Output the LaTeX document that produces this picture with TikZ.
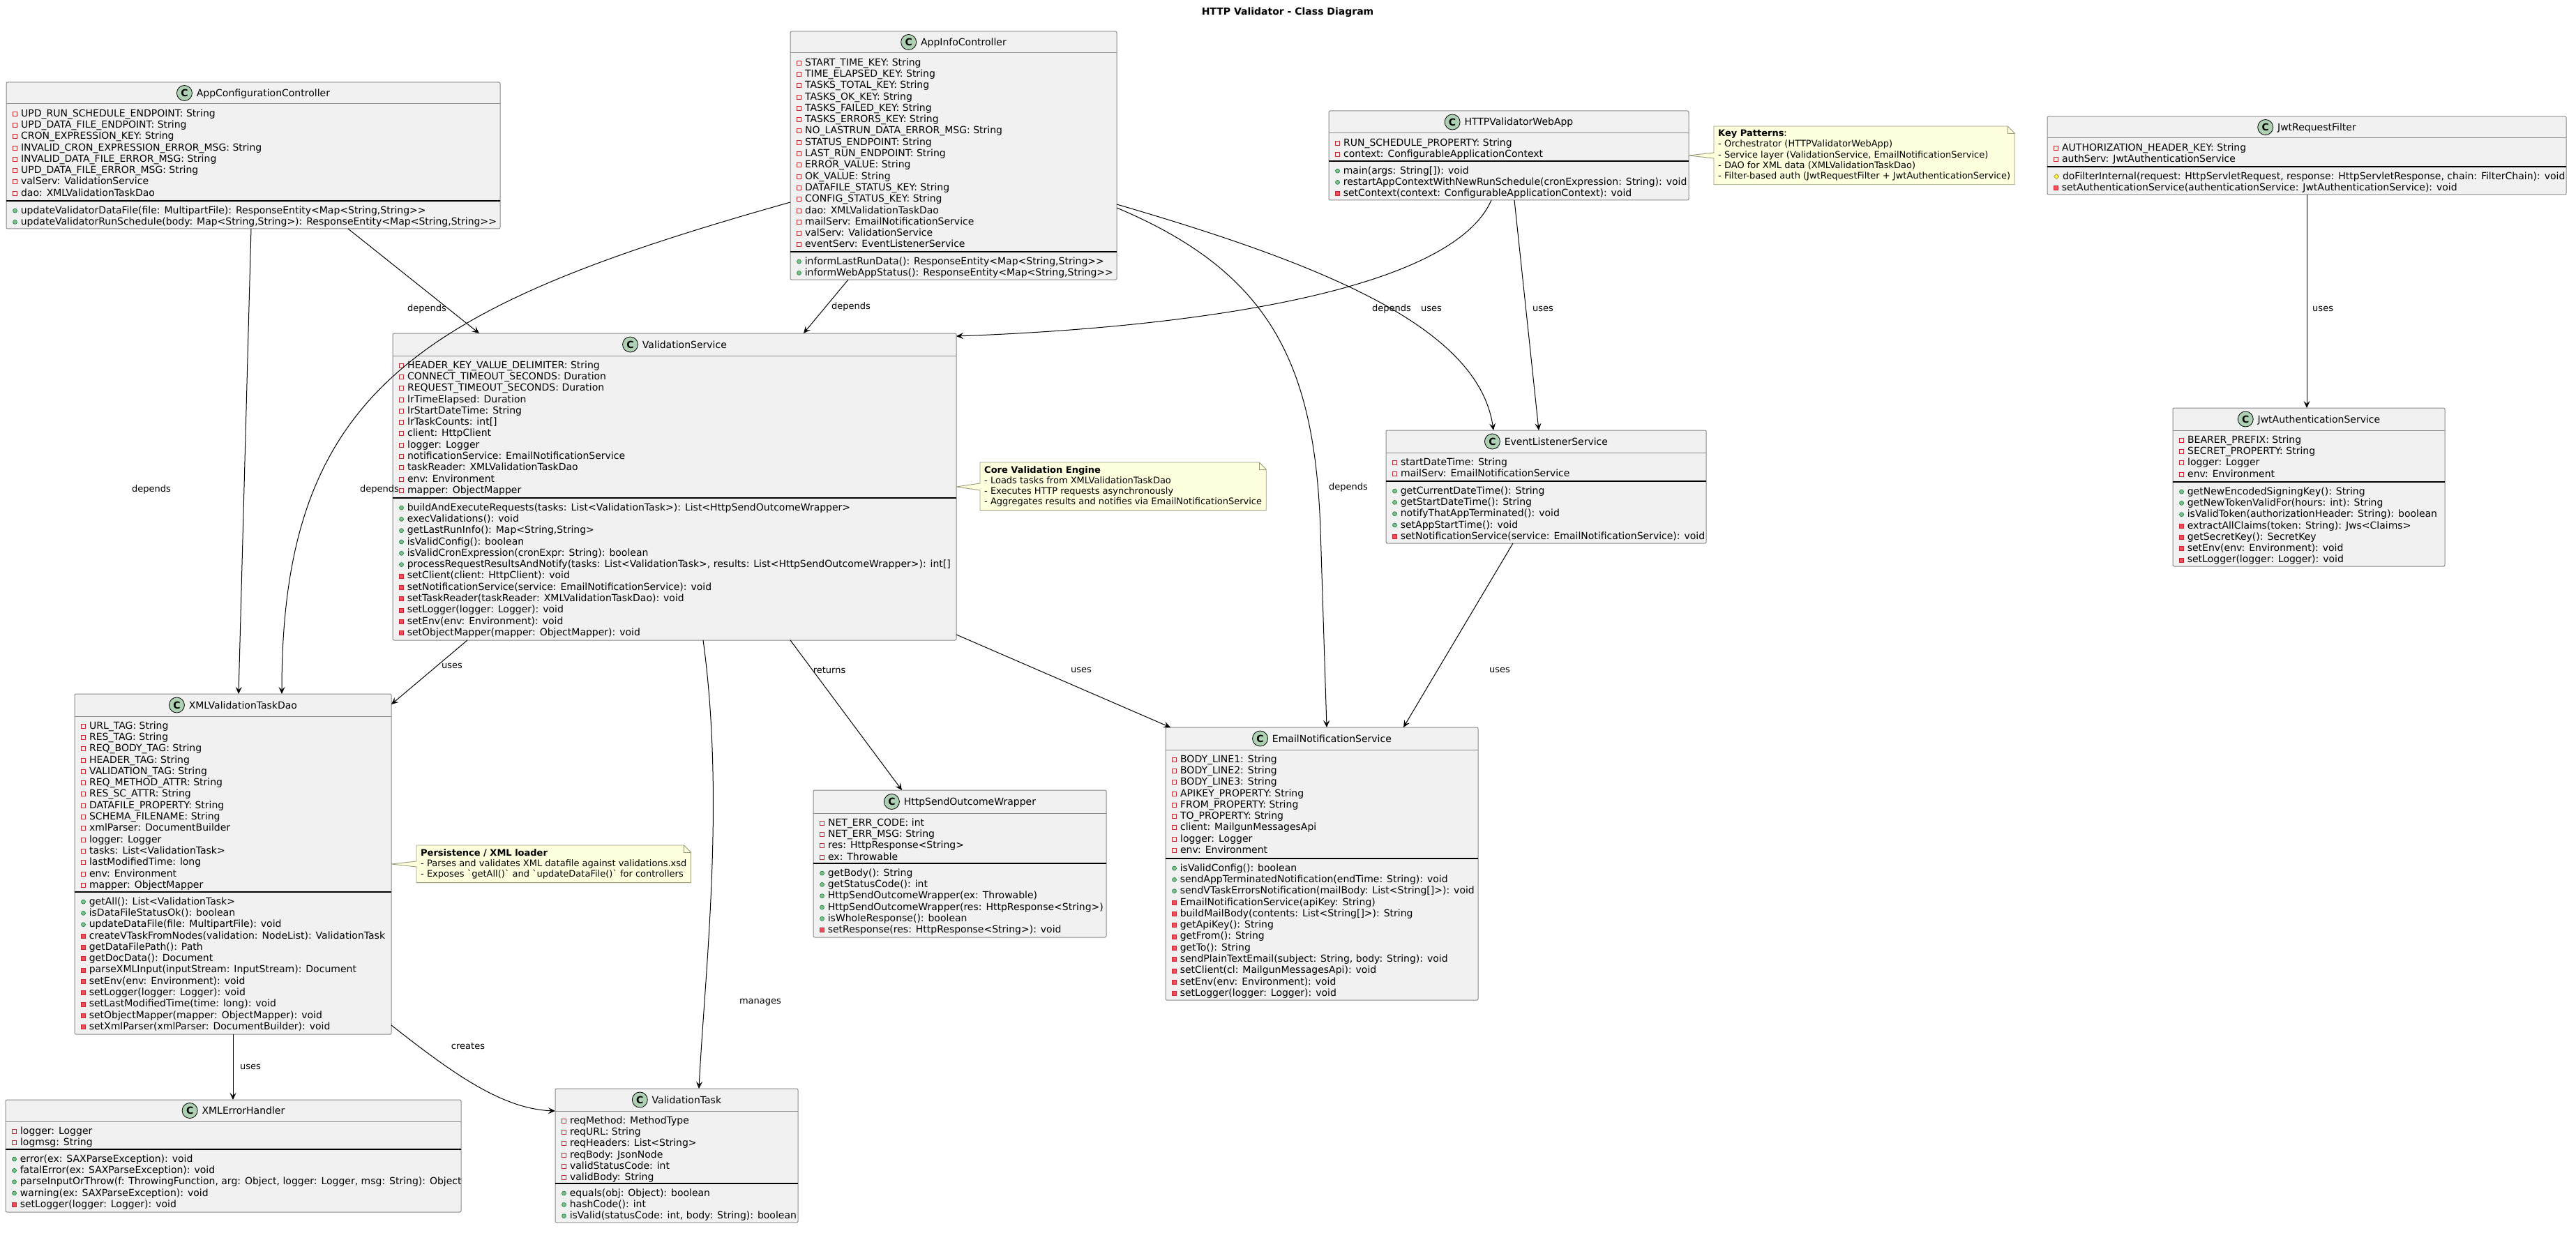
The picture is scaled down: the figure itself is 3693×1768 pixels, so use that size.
\documentclass[tikz,border=0pt]{standalone}
\usepackage{fontspec}
\setmainfont{DejaVu Sans}
\usetikzlibrary{arrows.meta,fit,backgrounds}
\definecolor{boxfill}{HTML}{F1F1F1}
\definecolor{boxline}{HTML}{8A8A8A}
\definecolor{privred}{HTML}{C82930}
\definecolor{privfill}{HTML}{F24D5C}
\definecolor{pubgreen}{HTML}{038048}
\definecolor{pubfill}{HTML}{84BE84}
\definecolor{protline}{HTML}{B38D22}
\definecolor{protfill}{HTML}{FFFF44}
\definecolor{iconfill}{HTML}{ADD1B2}
\definecolor{notefill}{HTML}{FEFFDD}
\definecolor{noteline}{HTML}{9A9A7A}
\newcommand\icFP{\tikz[baseline=-1pt]\draw[privred,line width=0.9pt] (0pt,0pt) rectangle (6pt,6pt);\hspace{5pt}}
\newcommand\icMP{\tikz[baseline=-1pt]\draw[pubgreen,fill=pubfill,line width=0.6pt] (3pt,3pt) circle (3pt);\hspace{5pt}}
\newcommand\icMR{\tikz[baseline=-1pt]\draw[privred,fill=privfill,line width=0.6pt] (0pt,0pt) rectangle (6pt,6pt);\hspace{5pt}}
\newcommand\icMD{\tikz[baseline=-1pt]\draw[protline,fill=protfill,line width=0.6pt] (3pt,-0.6pt) -- (6.6pt,3pt) -- (3pt,6.6pt) -- (-0.6pt,3pt) -- cycle;\hspace{5pt}}
\newcommand\icC{\tikz[baseline=6pt]{\draw[line width=0.8pt,fill=iconfill] (11pt,11pt) circle (11pt);\node[inner sep=0pt] at (11pt,11pt) {\fontsize{14}{14}\selectfont\bfseries C};}}
\tikzset{
  classbox/.style={draw=boxline, fill=boxfill, line width=1pt, rounded corners=2pt, inner sep=0pt, outer sep=0pt},
  hdrline/.style={draw=boxline, line width=1pt},
  sepline/.style={draw=black, line width=1.2pt},
  ctitle/.style={inner sep=0pt, font=\fontsize{14}{16.3}\selectfont},
  memb/.style={inner sep=0pt, font=\fontsize{14}{16.3}\selectfont},
  conn/.style={draw=black, line width=1pt, -{Stealth[length=10pt,width=9pt,inset=4pt]}},
  lbl/.style={inner sep=0pt, font=\fontsize{13}{15}\selectfont},
  notetext/.style={inner xsep=6pt, inner ysep=5pt, align=left, font=\fontsize{13}{15.3}\selectfont},
  notebox/.style={draw=noteline, fill=notefill, line width=0.9pt},
}
\newcommand\umlclass[8]{%
  \node[classbox, fit={(#2,#3) (#4,#5)}] (#1) {};
  \draw[hdrline] (#2,#6) -- (#4,#6);
  \draw[sepline] (#2,#7) -- (#4,#7);
  \node[ctitle] (#1-t) at ({(#2+#4)/2},{(#3+#6)/2}) {\icC\hspace{6pt}#8};
}
\newcommand\umlmem[4]{\node[memb, anchor=north west] (#1) at (#2+9,#3+6.5) {\begin{tabular}{@{}l@{}}#4\end{tabular}};}
% note outline: #1 node name, #2 tail top offset, #3 tail bottom offset, #4 tail tip x-offset, #5 tip y offset
\newcommand\noteshape[5]{%
  \begin{scope}[on background layer]
  \fill[notebox] (#1.north west) -- ([xshift=-10pt]#1.north east) -- ([yshift=-10pt]#1.north east) -- (#1.south east) -- (#1.south west) -- ([yshift=-#3pt]#1.north west) -- ([xshift=-#4pt,yshift=-#5pt]#1.north west) -- ([yshift=-#2pt]#1.north west) -- cycle;
  \draw[noteline, line width=0.9pt] ([xshift=-10pt]#1.north east) |- ([yshift=-10pt]#1.north east);
  \end{scope}}
\begin{document}
\begin{tikzpicture}[x=1pt,y=-1pt]
\useasboundingbox (0,0) rectangle (3693,1768);
\begin{scope}[on background layer]
\fill[white] (0,0) rectangle (3693,1768);
\end{scope}
\node[font=\fontsize{14}{16}\selectfont\bfseries, inner sep=0pt] (title) at (1846,18) {HTTP Validator - Class Diagram};

% AppConfigurationController
\umlclass{appcfg}{9}{118}{717}{328}{149}{288}{AppConfigurationController}
\umlmem{appcfg-f}{9}{149}{\icFP UPD\_RUN\_SCHEDULE\_ENDPOINT: String\\
\icFP UPD\_DATA\_FILE\_ENDPOINT: String\\
\icFP CRON\_EXPRESSION\_KEY: String\\
\icFP INVALID\_CRON\_EXPRESSION\_ERROR\_MSG: String\\
\icFP INVALID\_DATA\_FILE\_ERROR\_MSG: String\\
\icFP UPD\_DATA\_FILE\_ERROR\_MSG: String\\
\icFP valServ: ValidationService\\
\icFP dao: XMLValidationTaskDao}
\umlmem{appcfg-m}{9}{288}{\icMP updateValidatorDataFile(file: MultipartFile): ResponseEntity<Map<String,String>{}>\\
\icMP updateValidatorRunSchedule(body: Map<String,String>): ResponseEntity<Map<String,String>{}>}

% AppInfoController
\umlclass{appinfo}{1133}{45}{1601}{401}{76}{361}{AppInfoController}
\umlmem{appinfo-f}{1133}{76}{\icFP START\_TIME\_KEY: String\\
\icFP TIME\_ELAPSED\_KEY: String\\
\icFP TASKS\_TOTAL\_KEY: String\\
\icFP TASKS\_OK\_KEY: String\\
\icFP TASKS\_FAILED\_KEY: String\\
\icFP TASKS\_ERRORS\_KEY: String\\
\icFP NO\_LASTRUN\_DATA\_ERROR\_MSG: String\\
\icFP STATUS\_ENDPOINT: String\\
\icFP LAST\_RUN\_ENDPOINT: String\\
\icFP ERROR\_VALUE: String\\
\icFP OK\_VALUE: String\\
\icFP DATAFILE\_STATUS\_KEY: String\\
\icFP CONFIG\_STATUS\_KEY: String\\
\icFP dao: XMLValidationTaskDao\\
\icFP mailServ: EmailNotificationService\\
\icFP valServ: ValidationService\\
\icFP eventServ: EventListenerService}
\umlmem{appinfo-m}{1133}{361}{\icMP informLastRunData(): ResponseEntity<Map<String,String>{}>\\
\icMP informWebAppStatus(): ResponseEntity<Map<String,String>{}>}

% HTTPValidatorWebApp
\umlclass{webapp}{1905}{159}{2421}{287}{191}{231}{HTTPValidatorWebApp}
\umlmem{webapp-f}{1905}{191}{\icFP RUN\_SCHEDULE\_PROPERTY: String\\
\icFP context: ConfigurableApplicationContext}
\umlmem{webapp-m}{1905}{231}{\icMP main(args: String[]): void\\
\icMP restartAppContextWithNewRunSchedule(cronExpression: String): void\\
\icMR setContext(context: ConfigurableApplicationContext): void}

% JwtRequestFilter
\umlclass{jwtrf}{2935}{167}{3679}{279}{198}{239}{JwtRequestFilter}
\umlmem{jwtrf-f}{2935}{198}{\icFP AUTHORIZATION\_HEADER\_KEY: String\\
\icFP authServ: JwtAuthenticationService}
\umlmem{jwtrf-m}{2935}{239}{\icMD doFilterInternal(request: HttpServletRequest, response: HttpServletResponse, chain: FilterChain): void\\
\icMR setAuthenticationService(authenticationService: JwtAuthenticationService): void}

% ValidationService
\umlclass{valsrv}{563}{478}{1371}{918}{510}{714}{ValidationService}
\umlmem{valsrv-f}{563}{510}{\icFP HEADER\_KEY\_VALUE\_DELIMITER: String\\
\icFP CONNECT\_TIMEOUT\_SECONDS: Duration\\
\icFP REQUEST\_TIMEOUT\_SECONDS: Duration\\
\icFP lrTimeElapsed: Duration\\
\icFP lrStartDateTime: String\\
\icFP lrTaskCounts: int[]\\
\icFP client: HttpClient\\
\icFP logger: Logger\\
\icFP notificationService: EmailNotificationService\\
\icFP taskReader: XMLValidationTaskDao\\
\icFP env: Environment\\
\icFP mapper: ObjectMapper}
\umlmem{valsrv-m}{563}{714}{\icMP buildAndExecuteRequests(tasks: List<ValidationTask>): List<HttpSendOutcomeWrapper>\\
\icMP execValidations(): void\\
\icMP getLastRunInfo(): Map<String,String>\\
\icMP isValidConfig(): boolean\\
\icMP isValidCronExpression(cronExpr: String): boolean\\
\icMP processRequestResultsAndNotify(tasks: List<ValidationTask>, results: List<HttpSendOutcomeWrapper>): int[]\\
\icMR setClient(client: HttpClient): void\\
\icMR setNotificationService(service: EmailNotificationService): void\\
\icMR setTaskReader(taskReader: XMLValidationTaskDao): void\\
\icMR setLogger(logger: Logger): void\\
\icMR setEnv(env: Environment): void\\
\icMR setObjectMapper(mapper: ObjectMapper): void}

% EventListenerService
\umlclass{evl}{1987}{617}{2446}{779}{649}{690}{EventListenerService}
\umlmem{evl-f}{1987}{649}{\icFP startDateTime: String\\
\icFP mailServ: EmailNotificationService}
\umlmem{evl-m}{1987}{690}{\icMP getCurrentDateTime(): String\\
\icMP getStartDateTime(): String\\
\icMP notifyThatAppTerminated(): void\\
\icMP setAppStartTime(): void\\
\icMR setNotificationService(service: EmailNotificationService): void}

% JwtAuthenticationService
\umlclass{jwtauth}{3115}{585}{3505}{812}{617}{691}{JwtAuthenticationService}
\umlmem{jwtauth-f}{3115}{617}{\icFP BEARER\_PREFIX: String\\
\icFP SECRET\_PROPERTY: String\\
\icFP logger: Logger\\
\icFP env: Environment}
\umlmem{jwtauth-m}{3115}{691}{\icMP getNewEncodedSigningKey(): String\\
\icMP getNewTokenValidFor(hours: int): String\\
\icMP isValidToken(authorizationHeader: String): boolean\\
\icMR extractAllClaims(token: String): Jws<Claims>\\
\icMR getSecretKey(): SecretKey\\
\icMR setEnv(env: Environment): void\\
\icMR setLogger(logger: Logger): void}

% XMLValidationTaskDao
\umlclass{dao}{107}{995}{561}{1483}{1027}{1279}{XMLValidationTaskDao}
\umlmem{dao-f}{107}{1027}{\icFP URL\_TAG: String\\
\icFP RES\_TAG: String\\
\icFP REQ\_BODY\_TAG: String\\
\icFP HEADER\_TAG: String\\
\icFP VALIDATION\_TAG: String\\
\icFP REQ\_METHOD\_ATTR: String\\
\icFP RES\_SC\_ATTR: String\\
\icFP DATAFILE\_PROPERTY: String\\
\icFP SCHEMA\_FILENAME: String\\
\icFP xmlParser: DocumentBuilder\\
\icFP logger: Logger\\
\icFP tasks: List<ValidationTask>\\
\icFP lastModifiedTime: long\\
\icFP env: Environment\\
\icFP mapper: ObjectMapper}
\umlmem{dao-m}{107}{1279}{\icMP getAll(): List<ValidationTask>\\
\icMP isDataFileStatusOk(): boolean\\
\icMP updateDataFile(file: MultipartFile): void\\
\icMR createVTaskFromNodes(validation: NodeList): ValidationTask\\
\icMR getDataFilePath(): Path\\
\icMR getDocData(): Document\\
\icMR parseXMLInput(inputStream: InputStream): Document\\
\icMR setEnv(env: Environment): void\\
\icMR setLogger(logger: Logger): void\\
\icMR setLastModifiedTime(time: long): void\\
\icMR setObjectMapper(mapper: ObjectMapper): void\\
\icMR setXmlParser(xmlParser: DocumentBuilder): void}

% HttpSendOutcomeWrapper
\umlclass{hsow}{1166}{1133}{1586}{1344}{1166}{1238}{HttpSendOutcomeWrapper}
\umlmem{hsow-f}{1166}{1166}{\icFP NET\_ERR\_CODE: int\\
\icFP NET\_ERR\_MSG: String\\
\icFP res: HttpResponse<String>\\
\icFP ex: Throwable}
\umlmem{hsow-m}{1166}{1238}{\icMP getBody(): String\\
\icMP getStatusCode(): int\\
\icMP HttpSendOutcomeWrapper(ex: Throwable)\\
\icMP HttpSendOutcomeWrapper(res: HttpResponse<String>)\\
\icMP isWholeResponse(): boolean\\
\icMR setResponse(res: HttpResponse<String>): void}

% EmailNotificationService
\umlclass{email}{1671}{1043}{2119}{1434}{1075}{1231}{EmailNotificationService}
\umlmem{email-f}{1671}{1075}{\icFP BODY\_LINE1: String\\
\icFP BODY\_LINE2: String\\
\icFP BODY\_LINE3: String\\
\icFP APIKEY\_PROPERTY: String\\
\icFP FROM\_PROPERTY: String\\
\icFP TO\_PROPERTY: String\\
\icFP client: MailgunMessagesApi\\
\icFP logger: Logger\\
\icFP env: Environment}
\umlmem{email-m}{1671}{1231}{\icMP isValidConfig(): boolean\\
\icMP sendAppTerminatedNotification(endTime: String): void\\
\icMP sendVTaskErrorsNotification(mailBody: List<String[]>): void\\
\icMR EmailNotificationService(apiKey: String)\\
\icMR buildMailBody(contents: List<String[]>): String\\
\icMR getApiKey(): String\\
\icMR getFrom(): String\\
\icMR getTo(): String\\
\icMR sendPlainTextEmail(subject: String, body: String): void\\
\icMR setClient(cl: MailgunMessagesApi): void\\
\icMR setEnv(env: Environment): void\\
\icMR setLogger(logger: Logger): void}

% XMLErrorHandler
\umlclass{xeh}{8}{1577}{661}{1738}{1608}{1648}{XMLErrorHandler}
\umlmem{xeh-f}{8}{1608}{\icFP logger: Logger\\
\icFP logmsg: String}
\umlmem{xeh-m}{8}{1648}{\icMP error(ex: SAXParseException): void\\
\icMP fatalError(ex: SAXParseException): void\\
\icMP parseInputOrThrow(f: ThrowingFunction, arg: Object, logger: Logger, msg: String): Object\\
\icMP warning(ex: SAXParseException): void\\
\icMR setLogger(logger: Logger): void}

% ValidationTask
\umlclass{vtask}{796}{1561}{1144}{1753}{1593}{1697}{ValidationTask}
\umlmem{vtask-f}{796}{1593}{\icFP reqMethod: MethodType\\
\icFP reqURL: String\\
\icFP reqHeaders: List<String>\\
\icFP reqBody: JsonNode\\
\icFP validStatusCode: int\\
\icFP validBody: String}
\umlmem{vtask-m}{796}{1697}{\icMP equals(obj: Object): boolean\\
\icMP hashCode(): int\\
\icMP isValid(statusCode: int, body: String): boolean}

% Notes
\node[notetext, anchor=north west] (nkey) at (2457,181) {\textbf{Key Patterns}:\\- Orchestrator (HTTPValidatorWebApp)\\- Service layer (ValidationService, EmailNotificationService)\\- DAO for XML data (XMLValidationTaskDao)\\- Filter-based auth (JwtRequestFilter + JwtAuthenticationService)};
\noteshape{nkey}{38}{46}{36}{42}
\node[notetext, anchor=north west] (ncore) at (1405,663) {\textbf{Core Validation Engine}\\- Loads tasks from XMLValidationTaskDao\\- Executes HTTP requests asynchronously\\- Aggregates results and notifies via EmailNotificationService};
\noteshape{ncore}{30}{40}{34}{35}
\node[notetext, anchor=north west] (npers) at (597,1212) {\textbf{Persistence / XML loader}\\- Parses and validates XML datafile against validations.xsd\\- Exposes \textasciigrave getAll()\textasciigrave{} and \textasciigrave updateDataFile()\textasciigrave{} for controllers};
\noteshape{npers}{23}{31}{36}{27}

% Connectors
\draw[conn] ([xshift=351pt]appcfg.south west) -- ([xshift=235pt]dao.north west);
\node[lbl] (l1) at (217,702) {depends};
\draw[conn] ([xshift=490pt]appcfg.south west) -- ([xshift=124pt]valsrv.north west);
\node[lbl] (l2) at (612,443) {depends};
\draw[conn] ([yshift=-245pt]appinfo.north west) .. controls (600,440) and (404,560) .. ([xshift=297pt]dao.north west);
\node[lbl] (l3) at (544,702) {depends};
\draw[conn] ([xshift=83pt]appinfo.south west) -- ([xshift=589pt]valsrv.north west);
\node[lbl, anchor=west] (l4) at (1192,440) {depends};
\draw[conn] ([yshift=-248pt]appinfo.north east) .. controls (1900,380) and (2120,470) .. ([xshift=154pt]evl.north west);
\node[lbl] (l5) at (1995,443) {depends};
\draw[conn] ([yshift=-253pt]appinfo.north east) .. controls (1820,390) and (1885,520) .. (1893,760) -- ([xshift=231pt]email.north west);
\node[lbl, anchor=west] (l8) at (1905,699) {depends};
\draw[conn] ([xshift=233pt]webapp.south west) .. controls (2080,420) and (1700,470) .. ([yshift=-4pt]valsrv.north east);
\node[lbl] (l6) at (2052,443) {uses};
\draw[conn] ([xshift=266pt]webapp.south west) -- ([xshift=219pt]evl.north west);
\node[lbl] (l7) at (2212,443) {uses};
\draw[conn] ([xshift=372pt]jwtrf.south west) -- ([xshift=192pt]jwtauth.north west);
\node[lbl, anchor=west] (l9) at (3315,443) {uses};
\draw[conn] ([xshift=107pt]valsrv.south west) -- ([yshift=-15pt]dao.north east);
\node[lbl] (l10) at (648,955) {uses};
\draw[conn] ([xshift=445pt]valsrv.south west) .. controls (1040,1150) and (1010,1400) .. ([xshift=206pt]vtask.north west);
\node[lbl] (l14) at (1090,1437) {manages};
\draw[conn] ([xshift=570pt]valsrv.south west) -- ([xshift=127pt]hsow.north west);
\node[lbl] (l11) at (1189,961) {returns};
\draw[conn] ([yshift=8pt]valsrv.south east) -- ([xshift=7pt]email.north west);
\node[lbl] (l12) at (1550,961) {uses};
\draw[conn] ([xshift=182pt]evl.south west) -- ([xshift=341pt]email.north west);
\node[lbl] (l13) at (2150,961) {uses};
\draw[conn] ([xshift=227pt]dao.south west) -- ([xshift=326pt]xeh.north west);
\node[lbl, anchor=west] (l15) at (344,1530) {uses};
\draw[conn] ([yshift=13pt]dao.south east) .. controls (650,1540) and (720,1590) .. ([yshift=-32pt]vtask.north west);
\node[lbl] (l16) at (671,1500) {creates};
\end{tikzpicture}
\end{document}
